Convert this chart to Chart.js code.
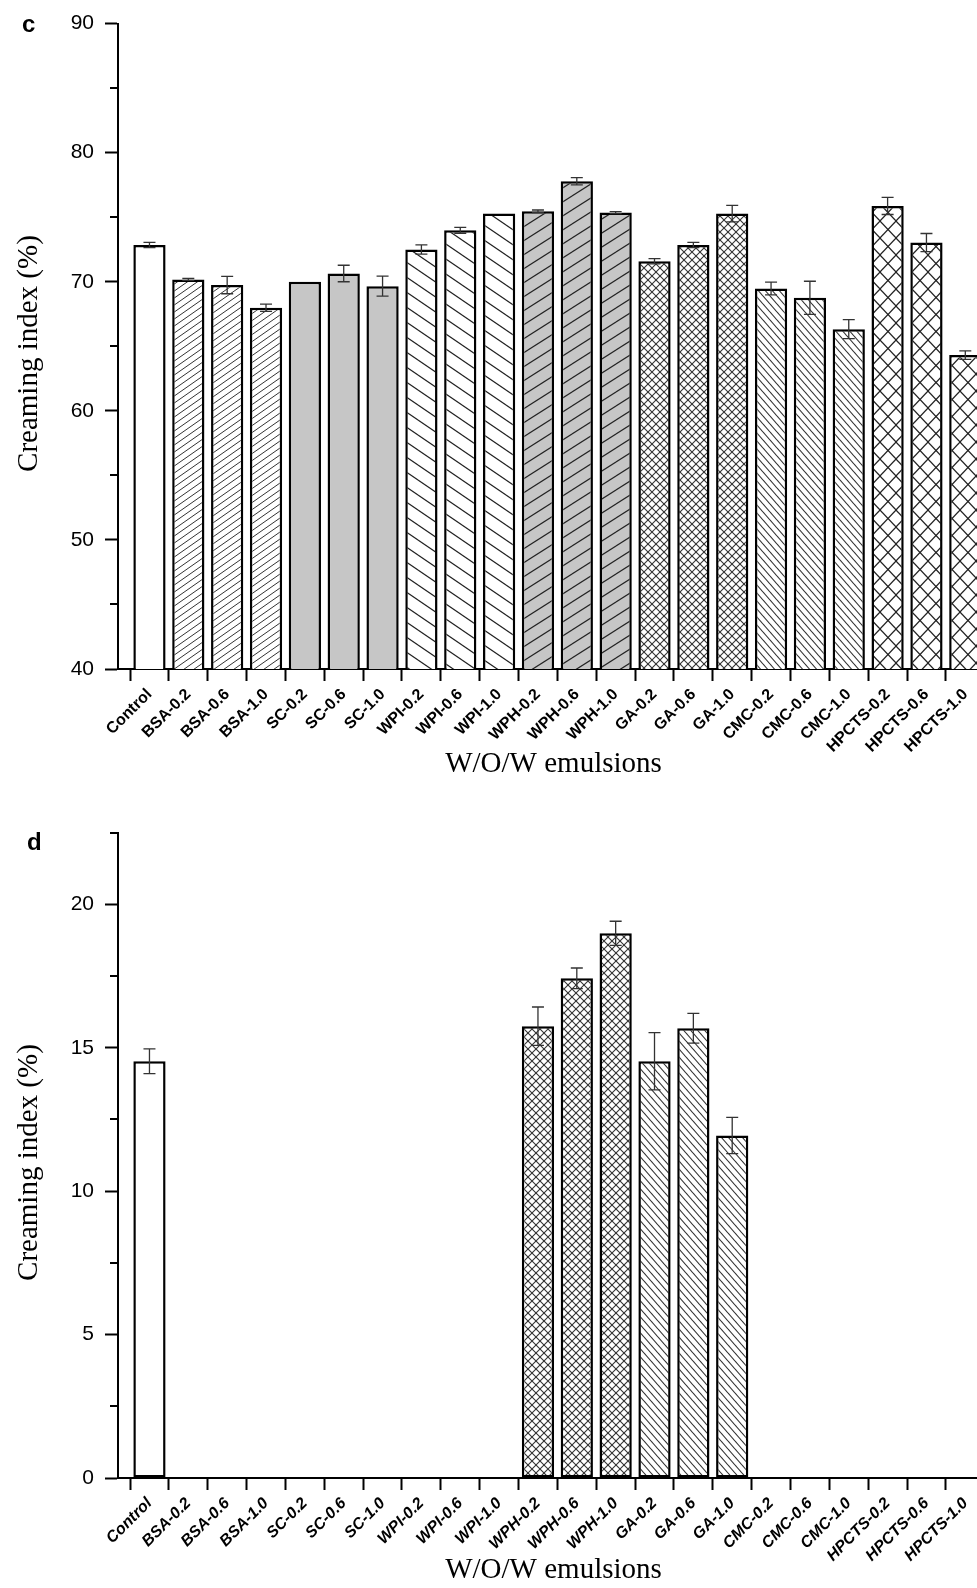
<!DOCTYPE html>
<html><head><meta charset="utf-8">
<script src="https://cdn.jsdelivr.net/npm/chart.js@4.4.0/dist/chart.umd.min.js"></script>
<style>
html,body{margin:0;padding:0;background:#fff;}
body{width:977px;height:1588px;overflow:hidden;position:relative;}
.wrap{position:absolute;left:0;width:989px;height:790px;}
#wc{top:0}
#wd{top:809px}
.panel{position:absolute;font:bold 24px "Liberation Sans",Arial,sans-serif;line-height:1;color:#000;}
</style></head><body>
<div class="wrap" id="wc"><canvas id="cc" width="989" height="790"></canvas></div>
<div class="wrap" id="wd"><canvas id="cd" width="989" height="790"></canvas></div>
<div class="panel" style="left:22px;top:12px">c</div>
<div class="panel" style="left:27px;top:830px">d</div>
<script>
const categories = ['Control','BSA-0.2','BSA-0.6','BSA-1.0','SC-0.2','SC-0.6','SC-1.0','WPI-0.2','WPI-0.6','WPI-1.0','WPH-0.2','WPH-0.6','WPH-1.0','GA-0.2','GA-0.6','GA-1.0','CMC-0.2','CMC-0.6','CMC-1.0','HPCTS-0.2','HPCTS-0.6','HPCTS-1.0'];
const creamingC = [72.85,70.18,69.74,67.98,70.0,70.64,69.66,72.50,73.99,75.28,75.46,77.78,75.36,71.59,72.85,75.28,69.48,68.76,66.33,75.87,73.04,64.32];
const errorC    = [0.20,0.08,0.67,0.28,0,0.64,0.77,0.36,0.23,0,0.10,0.28,0.08,0.20,0.20,0.64,0.49,1.28,0.73,0.66,0.70,0.33];
const creamingD = [14.53,0,0,0,0,0,0,0,0,0,15.75,17.42,18.99,14.53,15.68,11.94,0,0,0,0,0,0];
const errorD    = [0.43,0,0,0,0,0,0,0,0,0,0.67,0.36,0.42,1.00,0.52,0.63,0,0,0,0,0,0];
const yTicksC = [40,50,60,70,80,90];
const yMinorC = [45,55,65,75,85];
const yTicksD = [0,5,10,15,20];
const yMinorD = [2.5,7.5,12.5,17.5,22.5];

// fill style keys per bar (styles only)
const fillC = ['plain','bsa','bsa','bsa','sc','sc','sc','wpi','wpi','wpi','wph','wph','wph','ga','ga','ga','cmc','cmc','cmc','hp','hp','hp'];
const fillD = ['plain','bsa','bsa','bsa','sc','sc','sc','wpi','wpi','wpi','ga','ga','ga','cmc','cmc','cmc','cmc','cmc','cmc','hp','hp','hp'];

function tile(w,h,bg,dirs,lw,col){
  const c=document.createElement('canvas'); c.width=w; c.height=h;
  const x=c.getContext('2d');
  x.fillStyle=bg; x.fillRect(0,0,w,h);
  x.strokeStyle=col; x.lineWidth=lw;
  for(const d of dirs){
    for(let dx=-1;dx<=1;dx++) for(let dy=-1;dy<=1;dy++){
      x.beginPath();
      if(d==='/'){x.moveTo(dx*w,h+dy*h);x.lineTo(w+dx*w,dy*h);}
      else {x.moveTo(dx*w,dy*h);x.lineTo(w+dx*w,h+dy*h);}
      x.stroke();
    }
  }
  return x.createPattern(c,'repeat');
}
const GRAY='#c6c6c6';
const fills = {
  plain:'#ffffff',
  bsa: tile(10,7,'#fff',['/'],1,'#333'),
  sc: GRAY,
  wpi: tile(22,15,'#fff',['\\'],1.2,'#222'),
  wph: tile(22,14,GRAY,['/'],1.2,'#222'),
  ga: tile(8,8,'#fff',['/','\\'],1.1,'#333'),
  cmc: tile(7,8,'#fff',['\\'],1.1,'#333'),
  hp: tile(16,17,'#fff',['/','\\'],1.2,'#222')
};

function extrasPlugin(values, errs, minor){
  return {
    id:'extras',
    afterDatasetsDraw(chart){
      const ctx=chart.ctx, y=chart.scales.y, meta=chart.getDatasetMeta(0);
      ctx.save();
      ctx.strokeStyle='#333'; ctx.lineWidth=1.3;
      values.forEach((v,i)=>{
        const e=errs[i]; if(!e) return;
        const x=meta.data[i].x;
        const yt=y.getPixelForValue(v+e), yb=y.getPixelForValue(v-e);
        ctx.beginPath();
        ctx.moveTo(x,yt); ctx.lineTo(x,yb);
        ctx.moveTo(x-6,yt); ctx.lineTo(x+6,yt);
        ctx.moveTo(x-6,yb); ctx.lineTo(x+6,yb);
        ctx.stroke();
      });
      ctx.restore();
    },
    afterDraw(chart){
      const ctx=chart.ctx, y=chart.scales.y, L=chart.chartArea.left;
      ctx.save(); ctx.strokeStyle='#000'; ctx.lineWidth=2;
      minor.forEach(v=>{
        const py=Math.round(y.getPixelForValue(v));
        ctx.beginPath(); ctx.moveTo(L-8,py); ctx.lineTo(L,py); ctx.stroke();
      });
      ctx.restore();
    }
  };
}

function makeChart(id, values, errs, yMin, yMax, yTicks, yMinor, fillKeys, italic, titlePad){
  const serif='"Liberation Serif","Times New Roman",serif';
  const sans='"Liberation Sans",Arial,sans-serif';
  return new Chart(document.getElementById(id),{
    type:'bar',
    data:{datasets:[{
      data: values.map((v,i)=>({x:i,y:v})),
      backgroundColor: fillKeys.map(k=>fills[k]),
      borderColor:'#000', borderWidth:2.5, borderSkipped:false,
      barPercentage:0.83, categoryPercentage:1
    }]},
    options:{
      responsive:false, animation:false,
      layout:{padding:{top:23,left:0,right:0,bottom:0}},
      plugins:{legend:{display:false},tooltip:{enabled:false}},
      scales:{
        x:{type:'linear', min:-0.81, max:21.61, offset:false,
          afterBuildTicks:s=>{s.ticks=categories.map((c,i)=>({value:i}));},
          afterFit:s=>{s.height=790-669;},
          border:{display:true,color:'#000',width:2},
          grid:{drawOnChartArea:false,drawTicks:true,tickLength:12,tickColor:'#000',tickWidth:2},
          ticks:{autoSkip:false,maxRotation:45,minRotation:45,color:'#000',padding:4,
            font:{family:sans,size:16,weight:'bold',style:italic?'italic':'normal'},
            callback:v=>categories[v]},
          title:{display:true,text:'W/O/W emulsions',color:'#000',font:{family:serif,size:29},padding:{top:0,bottom:titlePad}}
        },
        y:{min:yMin,max:yMax,
          afterBuildTicks:s=>{s.ticks=yTicks.map(v=>({value:v}));},
          afterFit:s=>{s.width=118;},
          border:{display:true,color:'#000',width:2},
          grid:{drawOnChartArea:false,drawTicks:true,tickLength:13,tickColor:'#000',tickWidth:2},
          ticks:{color:'#000',padding:11,font:{family:sans,size:21}},
          title:{display:true,text:'Creaming index (%)  ',color:'#000',font:{family:serif,size:29},padding:{top:12,bottom:0}}
        }
      }
    },
    plugins:[extrasPlugin(values,errs,yMinor)]
  });
}
makeChart('cc',creamingC,errorC,40,90,yTicksC,yMinorC,fillC,false,8);
makeChart('cd',creamingD,errorD,0,22.5,yTicksD,yMinorD,fillD,true,11);
</script>
</body></html>
